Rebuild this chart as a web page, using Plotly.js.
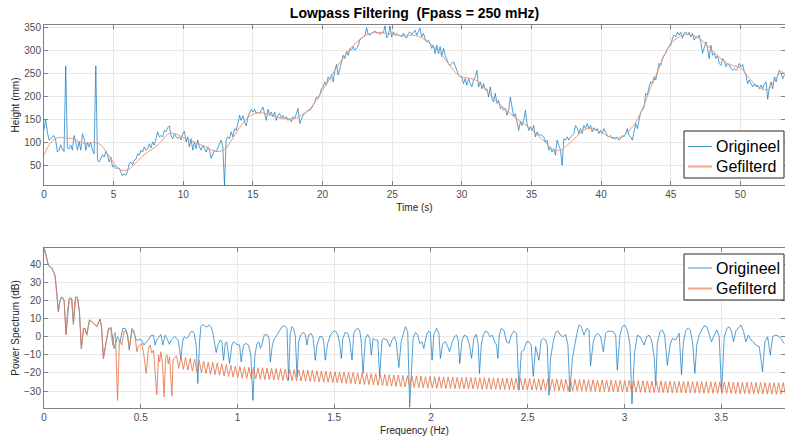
<!DOCTYPE html>
<html>
<head>
<meta charset="utf-8">
<script src="https://cdn.plot.ly/plotly-3.0.1.min.js"></script>
<style>html,body{margin:0;padding:0;background:#fff;}#chart{width:785px;height:438px;}</style>
</head>
<body>
<div id="chart"></div>
<script>
// ---------- Time-domain data ----------
const timeStepOrig = 0.12;   // s between raw samples
const heightOrig = [
128,150,123,105,108,112,115,105,79,83,
95,86,80,267,88,86,94,83,115,101,
83,101,83,119,108,83,100,90,100,83,
75,267,61,57,65,73,68,81,72,57,
68,46,50,43,44,44,35,27,32,28,
37,54,57,51,61,63,75,72,83,79,
90,83,86,97,88,101,94,110,123,112,
115,112,126,123,132,136,115,108,119,112,
108,112,105,119,124,101,112,90,108,83,
101,86,105,90,83,94,86,79,90,83,
65,75,83,79,90,97,105,90,7,105,
112,108,123,112,130,126,141,159,148,158,
145,136,156,163,172,166,172,163,166,163,
170,177,163,148,172,159,166,156,166,148,
159,163,152,159,152,156,148,152,145,156,
152,163,174,141,152,159,163,166,170,170,
174,181,188,199,196,203,217,221,232,225,
243,236,248,232,257,270,247,261,276,290,
283,298,290,305,301,309,301,305,312,323,
327,330,333,350,335,334,338,341,343,338,
340,335,341,338,354,328,334,354,330,341,
334,338,333,334,330,338,330,328,338,341,
335,341,345,334,343,349,330,338,327,319,
323,316,305,312,294,312,294,309,287,305,
290,279,272,268,272,276,267,254,247,243,
243,228,239,225,239,228,221,236,243,257,
221,232,217,228,214,217,199,221,196,188,
207,185,192,174,177,170,174,159,170,199,
177,156,163,145,126,145,137,148,170,141,
126,134,126,137,112,123,115,117,115,112,
101,105,83,90,79,86,72,105,94,83,
50,108,105,112,105,112,115,119,137,132,
119,130,119,137,130,141,130,137,123,132,
126,130,119,126,119,130,123,115,112,115,
108,110,107,112,105,108,115,112,119,130,
115,112,105,126,141,130,148,166,170,177,
207,203,221,232,228,243,236,254,272,268,
283,290,294,305,309,312,327,334,330,341,
334,340,327,338,341,334,340,330,338,323,
330,328,334,319,294,309,319,305,283,312,
290,294,283,290,272,268,283,279,265,272,
268,261,257,261,257,261,272,265,270,254,
247,228,236,228,221,228,221,225,217,225,
217,228,232,194,221,232,217,243,232,247,
257,250,239,247
];

const timeStepFilt = 0.5;
const heightFilt = [
72,100,110,110,108,102,97,100,96,78,
56,40,40,52,68,80,90,105,120,118,
110,104,98,92,84,80,86,106,130,150,
161,165,162,157,153,151,152,160,170,190,
214,238,263,285,305,320,332,338,340,338,
336,333,333,334,330,320,308,292,273,254,
243,240,236,222,205,190,175,162,150,140,
128,114,100,86,82,92,106,120,130,128,
122,113,110,112,125,145,175,215,250,288,
315,328,335,334,328,315,300,285,273,267,
263,245,228,217,215,238,254,232
];

// ---------- Spectrum data ----------
const freqOrig = [
0,0.022,0.04,0.057,0.074,0.083,0.091,0.104,0.114,0.131,
0.143,0.152,0.164,0.173,0.183,0.193,0.204,0.212,0.221,0.235,
0.247,0.264,0.273,0.29,0.298,0.307,0.319,0.333,0.347,0.362,
0.38,0.393,0.407,0.419,0.431,0.441,0.454,0.462,0.476,0.488,
0.497,0.505,0.517,0.528,0.54,0.552,0.566,0.574,0.583,0.597,
0.604,0.614,0.626,0.635,0.649,0.657,0.666,0.674,0.683,0.695,
0.707,0.718,0.725,0.735,0.747,0.756,0.766,0.776,0.787,0.795,
0.804,0.811,0.821,0.833,0.842,0.854,0.863,0.873,0.885,0.89,
0.899,0.911,0.919,0.928,0.937,0.945,0.959,0.971,0.98,0.997,
1.011,1.019,1.031,1.045,1.057,1.069,1.08,1.09,1.101,1.111,
1.118,1.126,1.138,1.152,1.163,1.17,1.18,1.19,1.204,1.218,
1.23,1.244,1.256,1.264,1.273,1.282,1.29,1.299,1.308,1.316,
1.328,1.342,1.351,1.359,1.368,1.38,1.39,1.402,1.411,1.425,
1.437,1.445,1.454,1.466,1.48,1.494,1.506,1.518,1.528,1.537,
1.545,1.557,1.57,1.58,1.592,1.601,1.609,1.622,1.632,1.639,
1.649,1.661,1.673,1.684,1.692,1.701,1.713,1.725,1.735,1.747,
1.756,1.773,1.787,1.799,1.811,1.821,1.834,1.846,1.86,1.868,
1.88,1.89,1.908,1.92,1.932,1.942,1.954,1.963,1.977,1.989,
1.997,2.006,2.015,2.029,2.041,2.049,2.061,2.075,2.087,2.096,
2.11,2.122,2.132,2.141,2.149,2.161,2.173,2.187,2.199,2.21,
2.222,2.234,2.244,2.251,2.26,2.27,2.282,2.294,2.305,2.317,
2.329,2.339,2.346,2.353,2.363,2.377,2.391,2.403,2.415,2.429,
2.443,2.455,2.467,2.48,2.494,2.506,2.518,2.529,2.541,2.558,
2.57,2.581,2.593,2.601,2.61,2.618,2.632,2.644,2.656,2.67,
2.684,2.696,2.708,2.718,2.731,2.739,2.753,2.765,2.777,2.791,
2.805,2.817,2.825,2.839,2.851,2.863,2.877,2.891,2.903,2.915,
2.929,2.943,2.955,2.963,2.977,2.989,3.001,3.015,3.029,3.039,
3.053,3.067,3.081,3.093,3.102,3.115,3.127,3.14,3.153,3.162,
3.17,3.184,3.196,3.208,3.222,3.236,3.248,3.265,3.283,3.295,
3.305,3.317,3.329,3.34,3.352,3.364,3.374,3.386,3.398,3.412,
3.426,3.438,3.45,3.464,3.478,3.49,3.502,3.516,3.53,3.542,
3.554,3.564,3.576,3.588,3.602,3.616,3.628,3.64,3.654,3.667,
3.679,3.697,3.714,3.726,3.74,3.754,3.766,3.778,3.792,3.809,
3.826
];
const powerOrig = [
49,39.8,38,34,13.9,20,22,20,1.3,21.3,
21.3,6.9,22,21.7,14,-6.5,4.6,4.6,0.9,9.3,
8.4,6.5,5.6,9.8,4.6,-12,-4.6,4.6,5,-6.5,
0,-2.8,4.6,4.6,1.9,-7.4,4.6,3.7,-1.8,-1.8,
-1.3,-1.8,-4.6,-2.8,-1.8,0.6,0.9,-4.6,-1.8,0.6,
1.3,-4.6,0.9,-0.9,-4.2,-1.8,-0.9,0,-0.5,-2.4,
-12,-1.8,0,-0.9,0,2.4,3.2,1.9,-4.6,-25.9,
-2.8,5.6,6.9,5.6,5.6,6.5,5.6,1.9,-5.5,-8.7,
-4.6,-1.8,-2.8,-13,-3.7,-2.8,-14.8,-4.6,-2.8,-4.2,
-4.6,-13.9,-4.6,-3.7,-4.6,-10.2,-35.2,-10.2,-3.7,-2.8,
-6.5,-4.6,0.9,1.3,-0.9,-13.9,-4.6,-1.3,0.9,3.7,
5.6,6.1,4.6,-24.1,1.9,5.6,4.6,0,-22.2,-2.8,
1.3,2.4,0.9,-4.6,0.9,1.9,0,-13,-4.6,0,
0,-1.8,-13,-3.7,0.9,2.8,3.2,1.3,-3.7,-12,
-0.9,2.4,1.9,-1.8,-13,1.9,3.7,4.6,3.2,-1.8,
-20.3,-0.9,1.3,-0.9,-10.2,-0.9,-1.8,-1.8,-22.2,-1.8,
-0.9,-1.8,-5.5,-1.8,0,-2.8,-17,-2.8,3.7,5.6,
2.8,-39,-0.9,2.4,0.9,-3.7,-2.8,-6.5,0.9,3.2,
2.4,-13,1.3,4.6,1.9,-12,-3.7,-2.8,-5.5,-8.3,
-2.8,0,0.9,-1.8,-14.8,-1.8,0.9,0,-4.6,-12,
-0.9,1.3,-3.7,-20.3,-4.6,0.9,3.2,2.4,0,0.9,
-2.8,-4.6,-12,0.9,4.6,3.7,-2.8,-3.7,0.9,3.2,
1.9,-29.6,-8.3,-7.4,-2.8,-2.8,-4.6,-22,-5.5,-13,
-1.8,-0.9,-1.8,-4.6,-32.4,-12,-2.8,2.4,3.2,0.9,
0,1.3,-4.6,-30.5,-12,-6.5,0.9,6.5,5.6,0.9,
4.6,3.7,-16,-2.8,0.9,1.9,0,-8.3,1.9,3.2,
2.8,2.8,0.9,-18.5,0.9,5.6,6.5,3.7,-4.6,-37,
-8.3,0.9,0,-2.8,-4.6,0,0.9,-1.8,-10.2,-26.8,
-3.7,2.8,3.7,0.9,-15.7,-4.6,-0.9,-1.8,1.9,-21,
-2.8,3.2,5,3.7,-2.8,-20.3,-4.6,0.9,3.7,6.1,
5.6,0.9,-2.8,0.9,3.7,0,-30.5,0,4.6,5.6,
2.8,-2.8,3.2,4.6,6.5,2.8,-2.8,0.9,-1.8,-2.8,
-4.6,-5.5,-19.4,-2.8,0,-10.2,0,0.9,0.6,-0.9,
-3.7
];

// filtered spectrum: low-frequency part (irregular points)
const freqFiltLow = [
0,0.005,0.022,0.03,0.04,0.05,0.057,0.066,0.074,0.083,
0.091,0.098,0.104,0.114,0.122,0.131,0.137,0.143,0.152,0.158,
0.164,0.173,0.183,0.193,0.204,0.212,0.221,0.235,0.247,0.256,
0.264,0.273,0.282,0.29,0.298,0.307,0.319,0.333,0.345,0.355,
0.362,0.369,0.38,0.39,0.402,0.414,0.424,0.431,0.441,0.454,
0.462,0.471,0.48,0.488,0.497,0.505,0.514,0.528,0.54,0.549,
0.557,0.566,0.583,0.592,0.598,0.604,0.612,0.621,0.628,0.635,
0.642,0.649,0.661,0.667,0.673
];
const powerFiltLow = [
49,48,39.8,38.5,38,36,34,25,13.9,20,
22,21.5,20,1.3,15,21.3,21,21.3,6.9,18,
22,21.7,14,-6.5,4.6,4.6,0.9,9.3,8.4,7.5,
6.5,5.6,8,9.8,4.6,-12,-4.6,3.7,5,-4.6,
0.9,2.4,-35.2,-1.8,-4.6,3.2,3.2,0.9,-6.5,3.2,
2.8,0,-8.3,-5,-4.6,-3.7,-8.3,-20.3,-6.5,-4.6,
-9,-7.4,-32,-10,-14,-8.3,-14,-33.3,-12,-10,
-15,-11,-32.8,-13,-12
];
// filtered spectrum: high-frequency ripple (regular bins)
const freqFiltHighStart = 0.685;
const freqFiltHighStep = 0.0117;
const powerFiltHigh = [
-10.5,-17.5,-11,-18,-11.5,-18.5,-12,-19,-12.5,-19.5,
-13,-20,-13.5,-20.3,-14,-20.7,-14.2,-21,-14.5,-21.3,
-15,-21.6,-15.4,-22,-15.8,-22.3,-16.2,-22.6,-16.5,-22.9,
-16.8,-23.1,-16.9,-23.2,-17,-23.3,-17.1,-23.5,-17.2,-23.6,
-17.3,-23.7,-17.5,-23.9,-17.6,-24,-17.7,-24.1,-17.8,-24.2,
-18,-24.3,-18.1,-24.4,-18.3,-24.5,-18.4,-24.6,-18.5,-24.7,
-18.6,-24.8,-18.8,-25,-18.9,-25.1,-19,-25.2,-19.2,-25.4,
-19.4,-25.5,-19.5,-25.6,-19.6,-25.8,-19.7,-25.9,-19.8,-26,
-20,-26.3,-20.1,-26.4,-20.2,-26.5,-20.4,-26.7,-20.5,-26.8,
-20.7,-27,-20.8,-27.2,-21,-27.3,-21.1,-27.5,-21.2,-27.6,
-21.4,-27.8,-21.5,-27.9,-21.6,-28.1,-21.7,-28.2,-21.8,-28.3,
-22,-28.4,-22,-28.4,-22.1,-28.5,-22.1,-28.5,-22.2,-28.6,
-22.2,-28.6,-22.3,-28.7,-22.3,-28.7,-22.4,-28.8,-22.4,-28.8,
-22.5,-28.9,-22.5,-28.9,-22.6,-29,-22.6,-29,-22.7,-29.1,
-22.7,-29.1,-22.8,-29.2,-22.8,-29.2,-22.9,-29.3,-22.9,-29.3,
-23,-29.4,-23,-29.4,-23.1,-29.5,-23.1,-29.5,-23.2,-29.6,
-23.2,-29.6,-23.3,-29.7,-23.3,-29.7,-23.4,-29.8,-23.4,-29.8,
-23.5,-29.9,-23.5,-29.9,-23.6,-30,-23.6,-30,-23.7,-30.1,
-23.7,-30.1,-23.8,-30.2,-23.8,-30.2,-23.9,-30.3,-23.9,-30.3,
-24,-30.4,-24,-30.4,-24.1,-30.5,-24.1,-30.5,-24.2,-30.6,
-24.2,-30.6,-24.3,-30.7,-24.3,-30.7,-24.4,-30.8,-24.4,-30.8,
-24.5,-30.9,-24.5,-30.9,-24.5,-30.9,-24.6,-31,-24.6,-31,
-24.6,-31,-24.7,-31.1,-24.7,-31.1,-24.7,-31.1,-24.8,-31.2,
-24.8,-31.2,-24.8,-31.2,-24.9,-31.3,-24.9,-31.3,-24.9,-31.3,
-25,-31.4,-25,-31.4,-25,-31.4,-25.1,-31.5,-25.1,-31.5,
-25.1,-31.5,-25.2,-31.6,-25.2,-31.6,-25.2,-31.6,-25.3,-31.7,
-25.3,-31.7,-25.3,-31.7,-25.4,-31.8,-25.4,-31.8,-25.4,-31.8
];

const seriesNames = ['Origineel', 'Gefilterd'];
const timeTicks = [0,5,10,15,20,25,30,35,40,45,50];
const heightTicks = [50,100,150,200,250,300,350];
const freqTicks = [0,0.5,1,1.5,2,2.5,3,3.5];
const powerTicks = [-30,-20,-10,0,10,20,30,40];

// ---------- build ----------
const timeOrig = heightOrig.map((_, i) => +(i * timeStepOrig).toFixed(3));
const timeFilt = heightFilt.map((_, i) => i * timeStepFilt);
const freqFilt = freqFiltLow.concat(powerFiltHigh.map((_, i) => +(freqFiltHighStart + i * freqFiltHighStep).toFixed(4)));
const powerFilt = powerFiltLow.concat(powerFiltHigh);

const blue = 'rgba(0,114,189,0.75)';
const orangeTop = '#ef9a76';
const orangeBottom = '#e47c52';
const legendOrange = '#f2a888';
const FONT = 'Liberation Sans, Arial, Helvetica, sans-serif';

const traces = [
  {x: timeOrig, y: heightOrig, type: 'scatter', mode: 'lines', name: seriesNames[0],
   line: {color: blue, width: 0.9}, xaxis: 'x', yaxis: 'y', showlegend: false},
  {x: timeFilt, y: heightFilt, type: 'scatter', mode: 'lines', name: seriesNames[1],
   line: {color: orangeTop, width: 1, shape: 'spline', smoothing: 1}, xaxis: 'x', yaxis: 'y', showlegend: false},
  {x: freqOrig, y: powerOrig, type: 'scatter', mode: 'lines', name: seriesNames[0],
   line: {color: blue, width: 0.9}, xaxis: 'x2', yaxis: 'y2', showlegend: false},
  {x: freqFilt, y: powerFilt, type: 'scatter', mode: 'lines', name: seriesNames[1],
   line: {color: orangeBottom, width: 0.9}, xaxis: 'x2', yaxis: 'y2', showlegend: false}
];

const axisCommon = {
  showline: true, linecolor: '#808080', linewidth: 1, mirror: 'ticks',
  ticks: 'inside', ticklen: 4, tickcolor: '#808080', tickwidth: 1,
  showgrid: true, gridcolor: '#e8e8e8', gridwidth: 1, zeroline: false,
  tickfont: {family: FONT, size: 10, color: '#4d4d4d'},
  fixedrange: true
};

// ---- legend boxes (MATLAB style), placed in pixel terms and converted to paper coords ----
const M = {l: 44, r: 0, t: 25, b: 30};
const W = 785, H = 438;
const pw = W - M.l - M.r, ph = H - M.t - M.b;
const px = v => (v - M.l) / pw;
const py = v => (H - M.b - v) / ph;
const shapes = [], annotations = [];
function addLegend(box, rows) {
  shapes.push({type: 'rect', xref: 'paper', yref: 'paper', x0: px(box[0]), x1: px(box[1]), y0: py(box[3]), y1: py(box[2]),
               line: {color: '#262626', width: 1}, fillcolor: '#ffffff', layer: 'above'});
  rows.forEach(r => {
    shapes.push({type: 'line', xref: 'paper', yref: 'paper', x0: px(box[0] + 4), x1: px(box[0] + 28), y0: py(r.y), y1: py(r.y),
                 line: {color: r.color, width: r.width}, layer: 'above'});
    annotations.push({xref: 'paper', yref: 'paper', x: px(box[0] + 30), y: py(r.y), xanchor: 'left', yanchor: 'middle',
                      text: r.name, showarrow: false, font: {family: FONT, size: 16, color: '#000'}});
  });
}
addLegend([684, 784, 131, 178], [
  {name: seriesNames[0], y: 146.5, color: 'rgba(0,114,189,0.7)', width: 1},
  {name: seriesNames[1], y: 166.5, color: legendOrange, width: 2}
]);
addLegend([684, 784, 254, 300], [
  {name: seriesNames[0], y: 268, color: 'rgba(0,114,189,0.7)', width: 1},
  {name: seriesNames[1], y: 288.5, color: legendOrange, width: 2}
]);

const layout = {
  width: W, height: H,
  margin: {l: M.l, r: M.r, t: M.t, b: M.b, pad: 0},
  paper_bgcolor: '#ffffff', plot_bgcolor: '#ffffff',
  font: {family: FONT, size: 10, color: '#262626'},
  showlegend: false,
  title: {text: '<b>Lowpass Filtering\u00a0\u00a0(Fpass = 250 mHz)</b>',
          font: {family: FONT, size: 14, color: '#000'},
          xref: 'paper', x: 0.5, xanchor: 'center', yref: 'container', y: 0.97, yanchor: 'middle'},
  xaxis: Object.assign({}, axisCommon, {anchor: 'y', domain: [0, 1], range: [0, 53.2],
          tickvals: timeTicks, title: {text: 'Time (s)', font: {family: FONT, size: 10, color: '#262626'}, standoff: 4}}),
  yaxis: Object.assign({}, axisCommon, {anchor: 'x', domain: [0.5822, 1], range: [7, 356],
          tickvals: heightTicks, title: {text: 'Height (mm)', font: {family: FONT, size: 10, color: '#262626'}, standoff: 2}}),
  xaxis2: Object.assign({}, axisCommon, {anchor: 'y2', domain: [0, 1], range: [0, 3.83],
          tickvals: freqTicks, title: {text: 'Frequency (Hz)', font: {family: FONT, size: 10, color: '#262626'}, standoff: 4}}),
  yaxis2: Object.assign({}, axisCommon, {anchor: 'x2', domain: [0, 0.4178], range: [-39.4, 49.1],
          tickvals: powerTicks, title: {text: 'Power Spectrum (dB)', font: {family: FONT, size: 10, color: '#262626'}, standoff: 2}}),
  shapes: shapes,
  annotations: annotations
};

Plotly.newPlot('chart', traces, layout, {displayModeBar: false, staticPlot: true});
</script>
</body>
</html>
